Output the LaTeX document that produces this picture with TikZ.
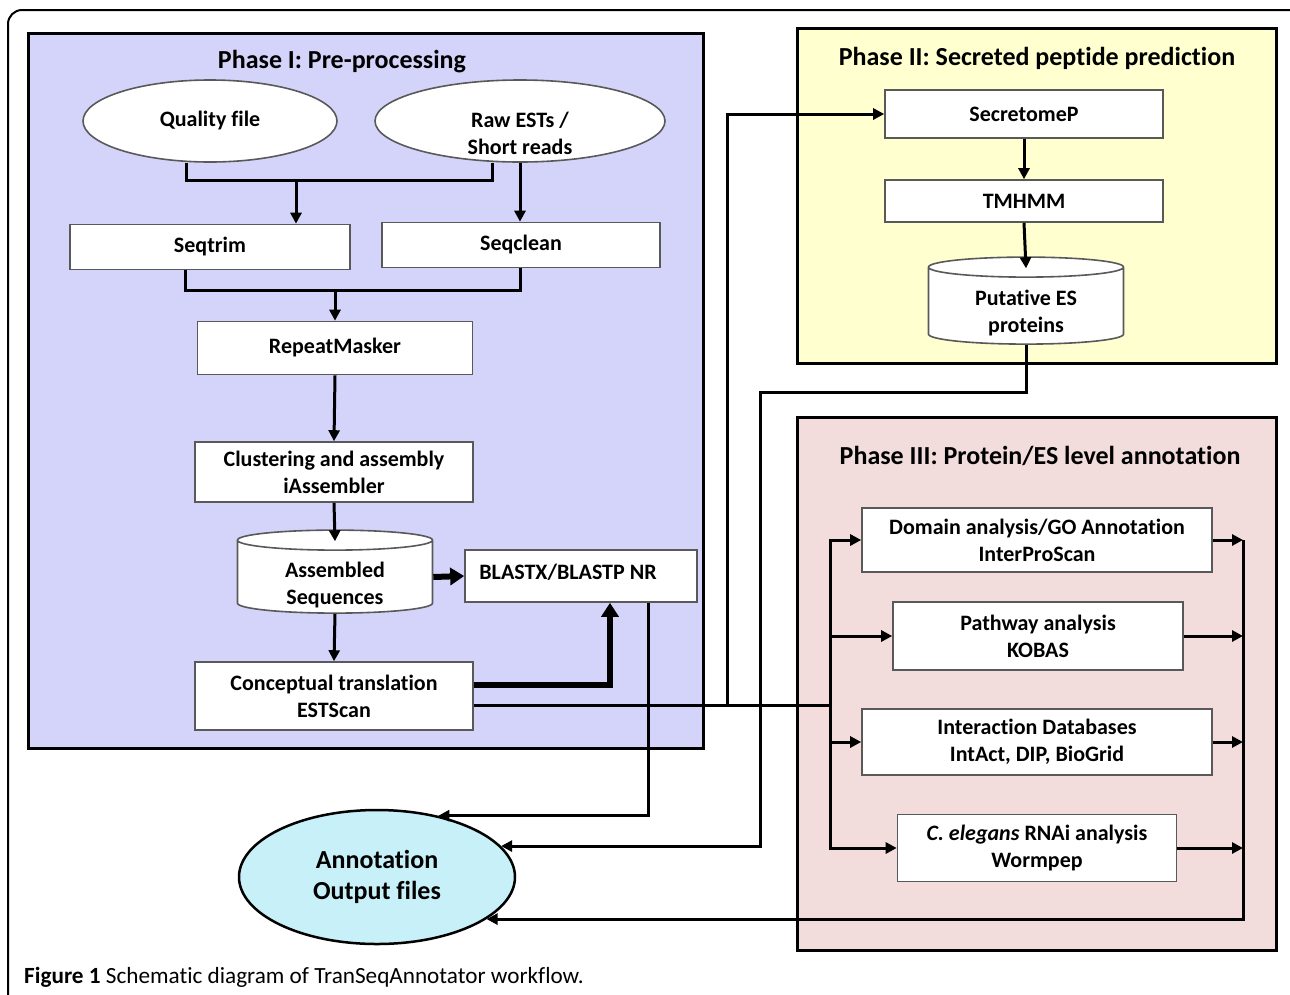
\documentclass[tikz,border=0pt]{standalone}
\usepackage{fontspec}
\setmainfont{Carlito}[Ligatures=NoCommon]
\usetikzlibrary{shapes.geometric,arrows.meta}

\definecolor{phaseone}{RGB}{212,212,250}
\definecolor{phasetwo}{RGB}{255,255,208}
\definecolor{phasethree}{RGB}{242,220,220}
\definecolor{outfile}{RGB}{200,240,248}

\newcommand{\boxfont}{\fontsize{22}{27}\selectfont\bfseries}
\newcommand{\titlefont}{\fontsize{26}{30}\selectfont\bfseries}
\newcommand{\bigfont}{\fontsize{26}{31}\selectfont\bfseries}
\newcommand{\capfont}{\fontsize{23.2}{27}\selectfont}

\begin{document}
\begin{tikzpicture}[x=1pt, y=-1pt,
  box/.style={draw=black!65, fill=white, line width=1.6pt, align=center, inner sep=0pt, font=\boxfont},
  oval/.style={box, ellipse},
  drum/.style={box, cylinder, shape border rotate=90, aspect=0.2, text width=100pt},
  inside/.style={font=\boxfont, align=center, yshift=#1},
  link/.style={line width=3pt, >={Triangle[length=11pt, width=11pt]}},
  bigflow/.style={line width=6pt, -{Triangle[length=14pt, width=17pt]}}]

\clip (0,0) rectangle (1290,994);

\draw [line width=2pt, rounded corners=14pt] (8,10) rectangle (1310,1020);

\filldraw [fill=phaseone, draw=black, line width=3pt] (28,33) rectangle (703,748);
\filldraw [fill=phasetwo, draw=black, line width=3pt] (797,28) rectangle (1276,363);
\filldraw [fill=phasethree, draw=black, line width=3pt] (797,417) rectangle (1276,950);

\node (tone) at (342,62) [font=\titlefont] {Phase I: Pre-processing};
\node (ttwo) at (1037,58) [font=\titlefont] {Phase II: Secreted peptide prediction};
\node (tthree) at (1040,456) [font=\titlefont] {Phase III: Protein/ES level annotation};

% phase I
\node (qual) at (210,121) [oval, minimum width=254pt, minimum height=82pt] {Quality file};
\node (raw) at (520,121) [oval, minimum width=290pt, minimum height=82pt,
  label={[inside=-12pt]center:{Raw ESTs /\\Short reads}}] {};
\node (trim) at (210,247) [box, minimum width=280pt, minimum height=45pt] {Seqtrim};
\node (clean) at (521,245) [box, minimum width=278pt, minimum height=45pt] {Seqclean};
\node (rep) at (335,348) [box, minimum width=275pt, minimum height=53pt] {RepeatMasker};
\node (clus) at (334,472) [box, minimum width=278pt, minimum height=60pt] {Clustering and assembly\\iAssembler};
\node (asm) at (335,577) [drum, minimum width=195pt, minimum height=83pt,
  label={[inside=-8pt]center:{Assembled\\Sequences}}] {};
\node (blast) at (581,576) [box, minimum width=232pt, minimum height=52pt,
  label={[inside=4pt, xshift=-13pt]center:BLASTX/BLASTP NR}] {};
\node (conc) at (334,696) [box, minimum width=278pt, minimum height=68pt] {Conceptual translation\\ESTScan};

% phase II
\node (sec) at (1024,114) [box, minimum width=278pt, minimum height=48pt] {SecretomeP};
\node (tm) at (1024,201) [box, minimum width=278pt, minimum height=42pt] {TMHMM};
\node (put) at (1026,306) [drum, minimum width=195pt, minimum height=87pt,
  label={[inside=-7pt]center:{Putative ES\\proteins}}] {};

% phase III
\node (dom) at (1037,540) [box, minimum width=350pt, minimum height=64pt] {Domain analysis/GO Annotation\\InterProScan};
\node (pway) at (1038,636) [box, minimum width=290pt, minimum height=68pt] {Pathway analysis\\KOBAS};
\node (inter) at (1037,742) [box, minimum width=350pt, minimum height=66pt] {Interaction Databases\\IntAct, DIP, BioGrid};
\node (cel) at (1037,848) [box, minimum width=279pt, minimum height=67pt] {\textit{C. elegans} RNAi analysis\\Wormpep};

\node (ann) at (377,877) [ellipse, fill=outfile, draw=black, line width=2.5pt, minimum width=276pt, minimum height=134pt, align=center, font=\bigfont] {Annotation\\Output files};

\node (cap) at (24,977) [anchor=west, inner sep=0pt, font=\capfont] {\textbf{Figure 1} Schematic diagram of TranSeqAnnotator workflow.};

\coordinate (m1) at (296,180);
\coordinate (m2) at (335,290);
\coordinate (t0) at (830,705);
\coordinate (t1) at (727,705);
\coordinate (t2) at (760,392);
\coordinate (c1) at (1243,540);

\draw [link] ([xshift=-24pt]qual.south) |- (m1) -| ([xshift=-28pt]raw.south);
\draw [link, ->] (m1) -- (m1 |- trim.north);
\draw [link, ->] (raw.south) -- (raw.south |- clean.north);
\draw [link] ([xshift=-25pt]trim.south) |- (m2) -| ([xshift=-1pt]clean.south);
\draw [link, ->] (m2) -- (rep.north);
\draw [link, ->] (rep.south) -- (clus.north);
\draw [link, ->] (clus.south) -- ([yshift=-12pt]asm.north);
\draw [bigflow] (asm.east) -- (blast.west);
\draw [link, ->] (asm.south) -- (conc.north);
\draw [bigflow] ([yshift=11pt]conc.east) -| ([xshift=29pt]blast.south);

\draw [link] ([yshift=-9pt]conc.east) -- (t0);
\draw [link, ->] (t1) |- (sec.west);
\draw [link, ->] (sec.south) -- (tm.north);
\draw [link, ->] (tm.south) -- ([yshift=-12pt]put.north);

\draw [link, ->] (t0) |- (dom.west);
\draw [link, ->] (t0) |- (pway.west);
\draw [link, ->] (t0) |- (inter.west);
\draw [link, ->] (t0) |- (cel.west);

\draw [link, ->] (dom.east) -- (dom.east -| c1);
\draw [link, ->] (pway.east) -- (pway.east -| c1);
\draw [link, ->] (inter.east) -- (inter.east -| c1);
\draw [link, ->] (cel.east) -- (cel.east -| c1);

\draw [link, ->] ([xshift=67pt]blast.south) |- (ann.45);
\draw [link, ->] (put.south) |- (t2) |- (ann.14);
\draw [link, ->] (c1) |- (ann.339);

\end{tikzpicture}
\end{document}
